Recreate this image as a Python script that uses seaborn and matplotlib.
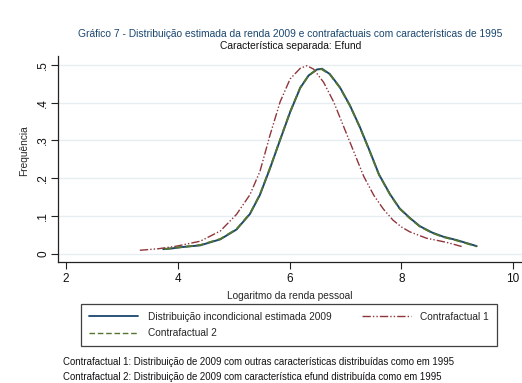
import numpy as np
import pandas as pd
import matplotlib
matplotlib.use("Agg")
import matplotlib.pyplot as plt
import seaborn as sns
from matplotlib.lines import Line2D

# Estimated income densities (log of personal income)
x_2009 = [3.74, 3.90, 4.04, 4.40, 4.76, 5.05, 5.29, 5.47, 5.65, 5.83, 6.01, 6.19,
          6.34, 6.49, 6.58, 6.72, 6.90, 7.08, 7.26, 7.44, 7.60, 7.80, 7.97, 8.15,
          8.33, 8.55, 8.75, 8.99, 9.17, 9.35]
y_2009 = [0.012, 0.014, 0.017, 0.022, 0.038, 0.064, 0.105, 0.156, 0.226, 0.301, 0.375, 0.439,
          0.472, 0.488, 0.490, 0.476, 0.441, 0.393, 0.335, 0.270, 0.210, 0.157, 0.120, 0.095,
          0.073, 0.056, 0.045, 0.036, 0.028, 0.020]

x_cf1 = [3.32, 3.65, 3.98, 4.40, 4.76, 5.05, 5.29, 5.47, 5.65, 5.83, 6.01, 6.19,
         6.31, 6.43, 6.61, 6.79, 6.97, 7.15, 7.33, 7.51, 7.68, 7.85, 8.00, 8.15,
         8.45, 8.81, 9.08]
y_cf1 = [0.009, 0.013, 0.020, 0.033, 0.060, 0.104, 0.156, 0.218, 0.314, 0.402, 0.463, 0.491,
         0.498, 0.489, 0.454, 0.402, 0.336, 0.270, 0.204, 0.154, 0.118, 0.089, 0.071, 0.058,
         0.041, 0.030, 0.019]

x_cf2 = [3.76, 3.92, 4.05, 4.40, 4.76, 5.05, 5.29, 5.47, 5.65, 5.83, 6.01, 6.19,
         6.34, 6.48, 6.57, 6.72, 6.90, 7.08, 7.26, 7.44, 7.60, 7.80, 7.97, 8.15,
         8.33, 8.55, 8.75, 8.99, 9.17, 9.35]
y_cf2 = [0.012, 0.015, 0.017, 0.023, 0.039, 0.065, 0.106, 0.157, 0.227, 0.302, 0.376, 0.440,
         0.472, 0.487, 0.489, 0.475, 0.440, 0.392, 0.334, 0.269, 0.209, 0.156, 0.119, 0.094,
         0.072, 0.055, 0.044, 0.035, 0.027, 0.019]

x_ticks = [2, 4, 6, 8, 10]
y_ticks = [0, 0.1, 0.2, 0.3, 0.4, 0.5]
y_tick_labels = ["0", ".1", ".2", ".3", ".4", ".5"]

labels = ["Distribuição incondicional estimada 2009", "Contrafactual 1", "Contrafactual 2"]
colors = ["#1a476f", "#90353b", "#55752f"]

df = pd.concat([
    pd.DataFrame({"x": x_2009, "y": y_2009, "serie": labels[0]}),
    pd.DataFrame({"x": x_cf1, "y": y_cf1, "serie": labels[1]}),
    pd.DataFrame({"x": x_cf2, "y": y_cf2, "serie": labels[2]}),
])

sns.set_style("white")
plt.rcParams["font.family"] = ["Liberation Sans", "DejaVu Sans"]

fig = plt.figure(figsize=(5.22, 3.83), dpi=100)
ax = fig.add_axes([0.1105, 0.316, 0.8895, 0.538])

dashdotdot = (0, (6, 1.5, 1, 1.5, 1, 1.5))
dashed = (0, (4, 2))
styles = {labels[0]: dict(ls="-", lw=1.4),
          labels[1]: dict(ls=dashdotdot, lw=1.0),
          labels[2]: dict(ls=dashed, lw=1.3)}

for lab, col in zip(labels, colors):
    sub = df[df["serie"] == lab]
    sns.lineplot(data=sub, x="x", y="y", ax=ax, color=col, sort=False,
                 estimator=None, linestyle=styles[lab]["ls"], lw=styles[lab]["lw"],
                 legend=False)

ax.set_xlim(1.85, 10.16)
ax.set_ylim(-0.022, 0.524)
ax.set_xticks(x_ticks)
ax.set_xticklabels([str(t) for t in x_ticks], fontsize=8.5)
ax.set_yticks(y_ticks)
ax.set_yticklabels(y_tick_labels, fontsize=8.5, rotation=90, va="center")
ax.yaxis.grid(True, color="#e6eef2", lw=1.0)
ax.xaxis.grid(False)
ax.set_axisbelow(True)
for s in ["top", "right"]:
    ax.spines[s].set_visible(False)
for s in ["left", "bottom"]:
    ax.spines[s].set_color("#222222")
    ax.spines[s].set_linewidth(0.9)
ax.tick_params(axis="both", direction="out", length=5, width=0.8, color="#222222",
               labelcolor="#111111")
ax.tick_params(axis="x", bottom=True, pad=3)
ax.tick_params(axis="y", left=True, pad=1)
ax.set_xlabel("Logaritmo da renda pessoal", fontsize=7.3, labelpad=4)
ax.set_ylabel("Frequência", fontsize=7.3)
ax.yaxis.set_label_coords(-0.062, 0.54)

fig.text(0.556, 0.911, "Gráfico 7 - Distribuição estimada da renda 2009 e contrafactuais com características de 1995",
         ha="center", va="center", fontsize=7.4, color="#1a476f")
fig.text(0.556, 0.881, "Característica separada: Efund", ha="center", va="center",
         fontsize=7.4, color="#111111")

handles = [Line2D([0], [0], color=colors[0], ls="-", lw=1.3),
           Line2D([0], [0], color=colors[2], ls=dashed, lw=1.0),
           Line2D([0], [0], color=colors[1], ls=dashdotdot, lw=1.0)]
leg = fig.legend(handles, [labels[0], labels[2], labels[1]], ncol=2,
                 loc="center", bbox_to_anchor=(0.5536, 0.1514),
                 fontsize=7.3, frameon=True, fancybox=False, edgecolor="#111111",
                 handlelength=4.9, handletextpad=0.9, columnspacing=3.0,
                 borderpad=0.75, labelspacing=0.68)
leg.get_frame().set_linewidth(0.9)

fig.text(0.121, 0.0556, "Contrafactual 1: Distribuição de 2009 com outras características distribuídas como em 1995",
         fontsize=6.9, va="center", color="#111111")
fig.text(0.121, 0.015, "Contrafactual 2: Distribuição de 2009 com característica efund distribuída como em 1995",
         fontsize=6.9, va="center", color="#111111")

fig.savefig("out.png", dpi=100, facecolor="white")
